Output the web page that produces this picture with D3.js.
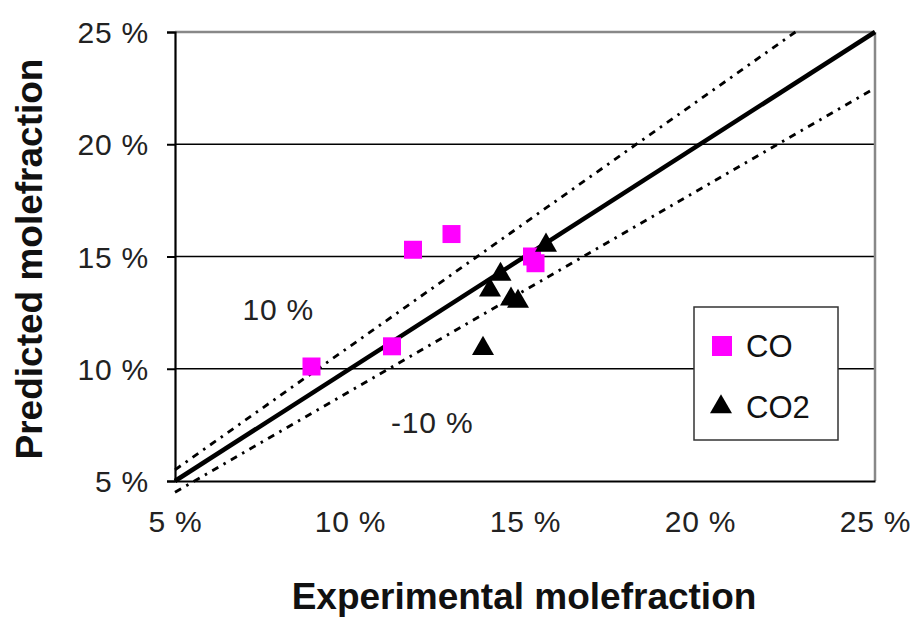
<!DOCTYPE html>
<html>
<head>
<meta charset="utf-8">
<script src="https://d3js.org/d3.v7.min.js"></script>
<style>
  body { margin: 0; background: #fff; }
  svg { display: block; }
</style>
</head>
<body>
<div id="chart"></div>
<script>
// Values (molefraction, %)
const ticks = [5, 10, 15, 20, 25];
const gridValues = [10, 15, 20];

const coExp  = [8.9, 11.2, 11.8, 12.9, 15.2, 15.3];
const coPred = [10.1, 11.0, 15.3, 16.0, 15.0, 14.7];

const co2Exp  = [15.6, 14.3, 14.0, 14.6, 14.8, 13.8];
const co2Pred = [15.5, 14.2, 13.5, 13.1, 13.0, 10.9];

const deviationFactors = [1.1, 0.9];

const width = 920, height = 619;
const margin = { top: 32, right: 45, bottom: 138, left: 175 };
const plotW = width - margin.left - margin.right;
const plotH = height - margin.top - margin.bottom;

const svg = d3.select('#chart').append('svg')
  .attr('width', width)
  .attr('height', height);

const x = d3.scaleLinear().domain([5, 25]).range([0, plotW]);
const y = d3.scaleLinear().domain([5, 25]).range([plotH, 0]);

const g = svg.append('g').attr('transform', `translate(${margin.left},${margin.top})`);
const font = 'Arial, "Liberation Sans", sans-serif';

// Horizontal grid lines
g.selectAll('line.grid')
  .data(gridValues)
  .enter().append('line')
  .attr('class', 'grid')
  .attr('x1', 0).attr('x2', plotW)
  .attr('y1', d => y(d)).attr('y2', d => y(d))
  .attr('stroke', '#000').attr('stroke-width', 1.3);

// Plot frame: top and right grey
g.append('line').attr('x1', 0).attr('x2', plotW).attr('y1', 0).attr('y2', 0)
  .attr('stroke', '#888').attr('stroke-width', 2.5);
g.append('line').attr('x1', plotW).attr('x2', plotW).attr('y1', 0).attr('y2', plotH)
  .attr('stroke', '#888').attr('stroke-width', 2.5);

// Axes
const xAxis = g.append('g')
  .attr('transform', `translate(0,${plotH})`)
  .call(d3.axisBottom(x).tickValues(ticks).tickSize(0).tickPadding(30).tickFormat(d => d + ' %'));
const yAxis = g.append('g')
  .call(d3.axisLeft(y).tickValues(ticks).tickSize(8).tickPadding(18).tickFormat(d => d + ' %'));

[xAxis, yAxis].forEach(a => {
  a.select('.domain').attr('stroke', '#000').attr('stroke-width', 2.2);
  a.selectAll('text').attr('font-family', font).attr('font-size', '30px')
    .attr('letter-spacing', '0.8px').attr('fill', '#222');
});
yAxis.selectAll('.tick line').attr('stroke', '#000').attr('stroke-width', 2);
yAxis.selectAll('.tick text').attr('dy', '0.35em');

// ±10 % lines
const devLine = d3.line().x(d => x(d[0])).y(d => y(d[1]));
deviationFactors.forEach(f => {
  const xEnd = Math.min(25, 25 / f);
  g.append('path')
    .datum([[5, 5 * f], [xEnd, xEnd * f]])
    .attr('d', devLine)
    .attr('fill', 'none')
    .attr('stroke', '#000')
    .attr('stroke-width', 2.8)
    .attr('stroke-dasharray', '7,6,2.5,6');
});

// 1:1 line
g.append('path')
  .datum([[5, 5], [25, 25]])
  .attr('d', devLine)
  .attr('fill', 'none')
  .attr('stroke', '#000')
  .attr('stroke-width', 4.5);

// Labels for deviation lines
g.append('text').attr('x', x(7.95)).attr('y', y(12.65)).attr('text-anchor', 'middle')
  .attr('dy', '0.35em').attr('letter-spacing', '0.8px')
  .attr('font-family', font).attr('font-size', '30px').attr('fill', '#222').text('10 %');
g.append('text').attr('x', x(12.35)).attr('y', y(7.6)).attr('text-anchor', 'middle')
  .attr('dy', '0.35em').attr('letter-spacing', '0.8px')
  .attr('font-family', font).attr('font-size', '30px').attr('fill', '#222').text('-10 %');

// CO squares
const sq = 18;
g.selectAll('rect.co')
  .data(coExp.map((v, i) => [v, coPred[i]]))
  .enter().append('rect')
  .attr('class', 'co')
  .attr('x', d => x(d[0]) - sq / 2)
  .attr('y', d => y(d[1]) - sq / 2)
  .attr('width', sq).attr('height', sq)
  .attr('fill', '#ff00ff');

// CO2 triangles
const tri = d3.symbol().type(d3.symbolTriangle).size(210);
g.selectAll('path.co2')
  .data(co2Exp.map((v, i) => [v, co2Pred[i]]))
  .enter().append('path')
  .attr('class', 'co2')
  .attr('d', tri)
  .attr('transform', d => `translate(${x(d[0])},${y(d[1])})`)
  .attr('fill', '#000');

// Legend
const leg = svg.append('g').attr('transform', 'translate(694,307)');
leg.append('rect').attr('width', 144).attr('height', 133)
  .attr('fill', '#fff').attr('stroke', '#333').attr('stroke-width', 1.5);
leg.append('rect').attr('x', 18).attr('y', 29).attr('width', 20).attr('height', 20).attr('fill', '#ff00ff');
leg.append('path').attr('d', tri).attr('transform', 'translate(27,100)').attr('fill', '#000');
leg.append('text').attr('x', 52).attr('y', 39).attr('dy', '0.35em')
  .attr('font-family', font).attr('font-size', '31px').attr('fill', '#111').text('CO');
leg.append('text').attr('x', 52).attr('y', 100).attr('dy', '0.35em')
  .attr('font-family', font).attr('font-size', '31px').attr('fill', '#111').text('CO2');

// Axis titles
svg.append('text')
  .attr('x', 524).attr('y', 609)
  .attr('text-anchor', 'middle')
  .attr('font-family', font).attr('font-weight', 'bold').attr('font-size', '37px').attr('fill', '#111')
  .text('Experimental molefraction');
svg.append('text')
  .attr('transform', `translate(42,259) rotate(-90)`)
  .attr('text-anchor', 'middle')
  .attr('font-family', font).attr('font-weight', 'bold').attr('font-size', '37px').attr('fill', '#111')
  .text('Predicted molefraction');
</script>
</body>
</html>
